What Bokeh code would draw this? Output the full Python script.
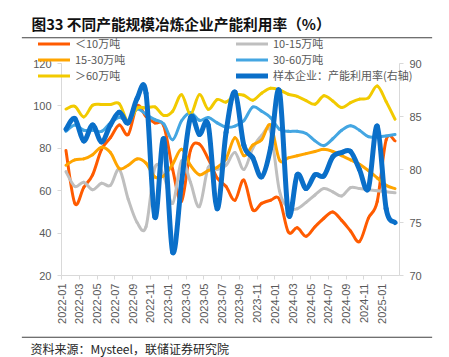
import math
from bokeh.plotting import figure
from bokeh.models import (Range1d, LinearAxis, FixedTicker, Legend, LegendItem,
                          Label, ColumnDataSource)
from bokeh.embed import file_html
from bokeh.resources import INLINE

# ---------------- data (monthly, 2022-01 .. 2025-02) ----------------
months = ["2022-01", "2022-02", "2022-03", "2022-04", "2022-05", "2022-06",
          "2022-07", "2022-08", "2022-09", "2022-10", "2022-11", "2022-12",
          "2023-01", "2023-02", "2023-03", "2023-04", "2023-05", "2023-06",
          "2023-07", "2023-08", "2023-09", "2023-10", "2023-11", "2023-12",
          "2024-01", "2024-02", "2024-03", "2024-04", "2024-05", "2024-06",
          "2024-07", "2024-08", "2024-09", "2024-10", "2024-11", "2024-12",
          "2025-01", "2025-02"]
tick_labels = ["2022-01", "2022-03", "2022-05", "2022-07", "2022-09", "2022-11",
               "2023-01", "2023-03", "2023-05", "2023-07", "2023-09", "2023-11",
               "2024-01", "2024-03", "2024-05", "2024-07", "2024-09", "2024-11",
               "2025-01"]

lt10 = [79, 54, 61.5, 67.5, 79.5, 85, 91, 86.5, 100, 95, 92, 90.5, 70, 55, 79, 82,
        75, 66, 62, 55.5, 65, 51, 54, 55.5, 56, 40.5, 42.5, 38.5, 43, 47, 50, 46,
        41, 36, 47, 55, 84, 83.5]
s10_15 = [69, 62, 64, 60.5, 63.5, 62.5, 70, 56, 45, 43, 71, 67, 54, 74, 64, 52.5,
          71, 70, 72, 78, 70, 80, 86, 88, 60, 52, 51.5, 54.5, 58, 61, 59.5, 57.5,
          61.5, 61, 60.5, 60, 59.5, 59]
s15_30 = [72, 74.5, 75, 77, 80.5, 78, 70.5, 72, 75, 73, 66.5, 67, 72.5, 79.5, 72,
          67.5, 69.5, 71, 75, 85, 76.5, 81.5, 84, 91, 74.5, 75.5, 76.5, 77.5, 78.5,
          79.5, 78.5, 76.5, 74.5, 72.5, 69.5, 66, 62.5, 61]
s30_60 = [88, 91, 88.5, 88.5, 88, 92, 94.5, 93, 98.5, 96, 93.5, 91.5, 84, 93, 96.8,
          93.2, 94.5, 92, 90, 90.5, 93, 99.5, 97.5, 94.5, 89, 88, 88, 87, 83.5,
          81.3, 84.5, 88.5, 90.6, 88.5, 85.5, 85.4, 85.8, 86.5]
gt60 = [98.5, 99.8, 94.8, 100.3, 100.7, 100.7, 101, 92.5, 99, 99, 99.5, 95.5, 97.5,
        105.3, 96, 105.3, 98.4, 103, 101.8, 105, 105, 102.7, 106, 108.3, 107.5,
        105.5, 104.5, 102.5, 100.8, 104.8, 102.3, 99.2, 101.5, 103.2, 103.8, 109.4,
        102, 93.7]
sample = [83.8, 84.8, 82.7, 84.2, 82.6, 84.2, 85.4, 84.4, 86.7, 87.2, 75.5, 82.9,
          72.2, 78.8, 84.9, 83.3, 84.2, 76.3, 83.5, 87.3, 82.3, 81.1, 79.3, 82,
          87.4, 75.8, 79.5, 78.2, 79.5, 79.4, 81.2, 81.6, 81.7, 80, 78.2, 84.1,
          76.3, 75]

names = ["＜10万吨", "10-15万吨", "15-30万吨", "30-60万吨", "＞60万吨",
         "样本企业：产能利用率(右轴)"]
colors = ["#FF5B00", "#BFBFBF", "#FFA500", "#44A6E2", "#F2CA00", "#0A6FC9"]

FONT_CJK = "Noto Sans CJK SC"
FONT_LAT = "Liberation Sans"


def smooth_source(ys):
    """Catmull-Rom style Bezier segments through the monthly points."""
    n = len(ys)
    xs = [i + 0.5 for i in range(n)]
    d = dict(x0=[], y0=[], x1=[], y1=[], cx0=[], cy0=[], cx1=[], cy1=[])
    for k in range(n - 1):
        km, kp = max(k - 1, 0), min(k + 2, n - 1)
        d["x0"].append(xs[k]); d["y0"].append(ys[k])
        d["x1"].append(xs[k + 1]); d["y1"].append(ys[k + 1])
        d["cx0"].append(xs[k] + (xs[k + 1] - xs[km]) / 6)
        d["cy0"].append(ys[k] + (ys[k + 1] - ys[km]) / 6)
        d["cx1"].append(xs[k + 1] - (xs[kp] - xs[k]) / 6)
        d["cy1"].append(ys[k + 1] - (ys[kp] - ys[k]) / 6)
    return ColumnDataSource(d)


# ---- page geometry: the frame is the whole 449x357 page; the chart's axes sit
# inside it at fixed locations (plot area x 61..399, y 63..275) ----
W, H = 449, 357
n = len(months)
PX_L, PX_R, PX_T, PX_B = 61, 399, 63, 275
cw = (PX_R - PX_L) / n                       # px per month
ky = (PX_B - PX_T) / 100                     # px per left unit
kr = (PX_B - PX_T) / 20                      # px per right unit


def page_x(px):
    return (px - PX_L) / cw


def page_y(py):
    return 20 + (PX_B - py) / ky


p = figure(width=W, height=H,
           x_range=Range1d(page_x(0), page_x(W)),
           y_range=Range1d(page_y(H), page_y(0)),
           min_border=0, outline_line_color=None,
           toolbar_location=None, output_backend="svg")
p.xgrid.visible = False
p.ygrid.visible = False
p.extra_y_ranges = {"right": Range1d(70 - (H - PX_B) / kr, 90 + PX_T / kr)}

p.xaxis.fixed_location = 20
p.xaxis.bounds = (0, n)
p.xaxis.ticker = FixedTicker(ticks=[2 * k for k in range(len(tick_labels))])
p.xaxis.major_label_overrides = {2 * k: lab for k, lab in enumerate(tick_labels)}
p.xaxis.major_label_orientation = math.pi / 2
p.xaxis.major_label_standoff = 4

p.yaxis.fixed_location = 0
p.yaxis.bounds = (20, 120)
p.yaxis.ticker = FixedTicker(ticks=[20, 40, 60, 80, 100, 120])
p.add_layout(LinearAxis(y_range_name="right", bounds=(70, 90), fixed_location=n,
                        ticker=FixedTicker(ticks=[70, 75, 80, 85, 90])), "right")

for ax in p.xaxis + p.yaxis:
    ax.axis_line_color = "#D9D9D9"
    ax.major_tick_line_color = "#D9D9D9"
    ax.major_tick_out = 4
    ax.major_tick_in = 0
    ax.minor_tick_line_color = None
    ax.major_label_text_font = FONT_LAT
    ax.major_label_text_font_size = "11px"
    ax.major_label_text_color = "#595959"
for ax in p.yaxis:
    ax.major_label_standoff = 6

series = [lt10, s10_15, s15_30, s30_60, gt60, sample]
renderers = []
for i, ys in enumerate(series):
    src = smooth_source(ys)
    kw = dict(y_range_name="right") if i == 5 else {}
    r = p.bezier(x0="x0", y0="y0", x1="x1", y1="y1", cx0="cx0", cy0="cy0",
                 cx1="cx1", cy1="cy1", source=src, line_color=colors[i],
                 line_width=5 if i == 5 else 3, line_cap="round", **kw)
    renderers.append(r)


def make_legend(idx, loc):
    lg = Legend(items=[LegendItem(label=names[j], renderers=[renderers[j]]) for j in idx],
                location=loc, padding=0, margin=0, spacing=-1,
                border_line_color=None, background_fill_alpha=0,
                glyph_width=32, glyph_height=15, label_height=15,
                label_standoff=5, label_text_font=FONT_CJK,
                label_text_font_size="11px", label_text_color="#595959")
    p.add_layout(lg, "center")


make_legend([0, 2, 4], (38, 274))
make_legend([1, 3, 5], (236, 274))

# the two horizontal page rules: a blank label whose padded background box
# forms a thin dark band from x=21 to x=432
for rule_py in (37.2, 336.8):
    try:
        p.add_layout(Label(x=(21 + 432) / 2, y=H - rule_py,
                           x_units="screen", y_units="screen", text=" ",
                           text_align="center", text_baseline="middle",
                           text_font_size="1px", text_color="#404040",
                           background_fill_color="#404040",
                           background_fill_alpha=1.0, padding=(205, 0)))
    except Exception:
        pass

# title and source (screen units from the page's bottom-left)
p.add_layout(Label(x=31, y=H - 23, x_units="screen", y_units="screen",
                   text="图33 不同产能规模冶炼企业产能利用率（%）",
                   text_font=FONT_CJK, text_font_size="14.7px",
                   text_font_style="bold", text_color="#111111",
                   text_baseline="middle"))
p.add_layout(Label(x=30, y=H - 348, x_units="screen", y_units="screen",
                   text="资料来源：Mysteel，联储证券研究院",
                   text_font=FONT_CJK, text_font_size="12px",
                   text_color="#262626", text_baseline="middle"))

open("out.html", "w").write(file_html(p, INLINE))
